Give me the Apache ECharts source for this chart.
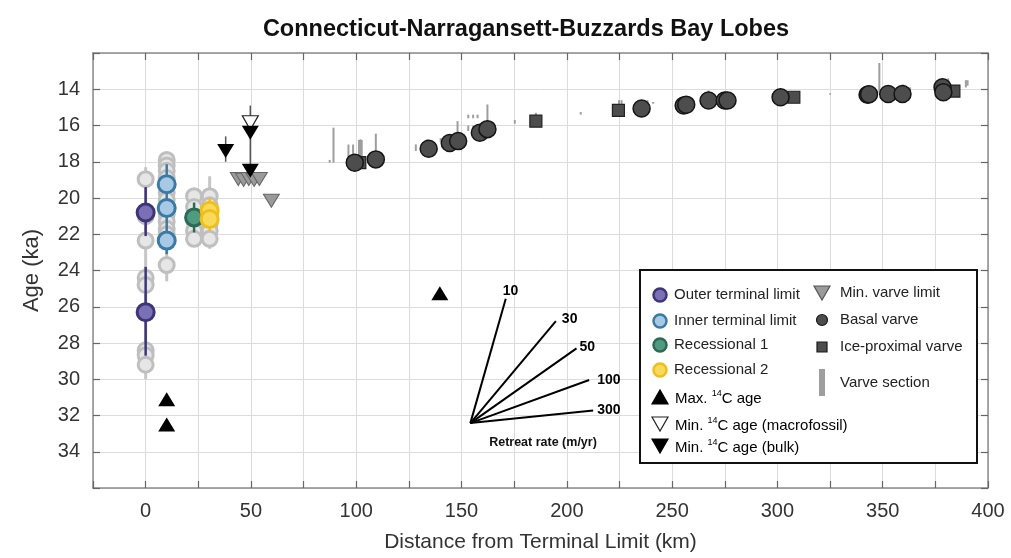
<!DOCTYPE html>
<html><head><meta charset="utf-8">
<script src="https://cdn.jsdelivr.net/npm/echarts@6/dist/echarts.min.js"></script>
<style>html,body{margin:0;padding:0;background:#fff}#c{width:1011px;height:558px}</style>
</head><body><div id="c"></div>
<script>
// ---------- DATA ----------
const xTicks = [0, 50, 100, 150, 200, 250, 300, 350, 400];
const yTicks = [14, 16, 18, 20, 22, 24, 26, 28, 30, 32, 34];

// previously published / unused ages (grey)
const greyPts = [[0,18.96],[0,20.8],[0,21.0],[0,22.35],[0,24.4],[0,24.8],[0,28.4],[0,28.67],[0,29.2],
  [10,17.9],[10,18.2],[10,18.5],[10,18.9],[10,19.3],[10,19.7],[10,20.1],[10,20.5],[10,20.9],[10,21.3],[10,21.7],[10,22.0],[10,22.3],[10,23.7],
  [23,19.9],[23,20.5],[23,21.25],[23,21.8],[23,22.25],
  [30.4,19.9],[30.4,20.4],[30.4,20.9],[30.4,21.4],[30.4,21.8],[30.4,22.25]];
const greyBars = [[0,18.3,30.0],[10,17.6,24.6],[23,19.5,22.7],[30.4,18.8,22.8]];

const outerPts = [[0,20.8],[0,26.3]];
const outerBars = [[0,19.4,22.1],[0,23.8,28.7]];
const innerPts = [[10,19.24],[10,20.55],[10,22.35]];
const innerBars = [[10,18.14,23.1]];
const rec1Pts = [[23,21.07]];
const rec1Bars = [[23,20.25,21.9]];
const rec2Pts = [[30.4,20.7],[30.4,21.16]];
const rec2Bars = [[30.4,20.0,21.8]];

const maxC14 = [[10,31.1],[10,32.5],[139.7,25.25]];
const minC14Macro = [[49.7,15.85]];
const minC14Bulk = [[38,17.4],[49.7,16.4],[49.7,18.5]];
const minC14Bars = [[38,16.6,18.0],[49.7,14.9,18.6]];
const minVarve = [[44,18.95],[46.5,19.0],[49,18.95],[51.5,19.0],[54,18.95],[59.7,20.15]];

const basalVarve = [[99.3,18.05],[109.3,17.87],[134.4,17.28],[144.4,16.97],[148.4,16.86],[158.7,16.4],[162.3,16.2],
  [235.5,15.06],[255.5,14.9],[256.7,14.85],[267.3,14.62],[275,14.62],[276.3,14.62],[301.5,14.44],
  [342.8,14.3],[343.5,14.28],[352.6,14.26],[359.4,14.26],[378.4,13.89],[378.8,14.16]];
const iceProximal = [[101.7,18.05],[185.3,15.76],[224.5,15.17],[307.8,14.44],[383.8,14.1]];
const varveSections = [[87.4,17.9,18.05],[89.2,16.12,18.05],[96.3,17.05,17.8],[98.5,17.05,17.9],[101.3,16.8,18.0],
  [102,16.76,18.05],[102.6,16.8,18.0],[109.3,16.45,17.87],[128.3,17.04,17.4],[133.6,16.76,16.9],[140.1,16.7,16.9],
  [148.1,15.76,16.6],[153.2,15.4,15.6],[153.2,16.0,16.3],[155.5,15.4,15.6],[155.5,16.0,16.3],[157.6,15.4,15.6],
  [162.3,14.84,16.2],[175.3,15.7,15.9],[185.3,15.3,15.6],[206.6,15.26,15.4],[224.8,14.6,14.85],[226,14.6,14.85],
  [238.3,14.6,14.75],[241,14.7,14.8],[267.3,14.07,14.3],[275.4,14.15,14.3],[325,14.22,14.3],[348.4,12.55,14.2],
  [359.8,13.74,13.9],[363,13.9,14.2],[379.6,13.47,13.74],[381.1,13.4,13.74],[389.5,13.5,13.9],[390.3,13.5,13.8]];

const fanOrigin = [154.2, 32.42];
const fanRates = ['10', '30', '50', '100', '300'];
const fanEnds = [[171,25.56],[194.8,26.79],[204.6,28.3],[210.6,30.04],[212.5,31.73]];

// ---------- STYLE ----------
const FONT = '"Liberation Sans", Arial, sans-serif';
const fanLabelOffsets = [[-3,-8],[6,-2],[3,-1],[8,0],[4,0]];
const C = {
  outer:{fill:'#7b70b6', stroke:'#3e3577'},
  inner:{fill:'#a7c9e3', stroke:'#3a7aa5'},
  rec1:{fill:'#4f9b80', stroke:'#2c6a55'},
  rec2:{fill:'#f8da5b', stroke:'#efbf1c'},
  grey:{fill:'#e6e6e6', stroke:'#bfbfbf'}
};

function vbar(color, width){
  return function(params, api){
    const p1 = api.coord([api.value(0), api.value(1)]);
    const p2 = api.coord([api.value(0), api.value(2)]);
    return {type:'line', shape:{x1:p1[0],y1:p1[1],x2:p2[0],y2:p2[1]}, style:{stroke:color, lineWidth:width}};
  };
}
function barSeries(data, color, width, z){
  return {type:'custom', data:data, renderItem:vbar(color,width), encode:{x:0,y:[1,2]}, z:z, silent:true, animation:false};
}
function ptSeries(data, col, size, z, bw){
  return {type:'scatter', data:data, symbol:'circle', symbolSize:size, z:z, animation:false,
    itemStyle:{color:col.fill, borderColor:col.stroke, borderWidth:bw, opacity:1}};
}

const chart = echarts.init(document.getElementById('c'), null, {renderer:'canvas'});

const axisCommon = {
  axisLine:{show:true, onZero:false, lineStyle:{color:'#8c8c8c', width:1.5}},
  axisTick:{show:true, inside:true, length:7, lineStyle:{color:'#666', width:1.2}},
  splitLine:{show:false}
};

// legend helpers (pixel layout of legend box)
const LX1 = 660, LT1 = 674, LX2 = 822, LT2 = 840;
const rowsL = [295, 321, 345, 370, 397, 424, 446];
const rowsR = [293, 320, 347, 383];
const legendCircles = [C.outer, C.inner, C.rec1, C.rec2];
const legendNames1 = ['Outer terminal limit','Inner terminal limit','Recessional 1','Recessional 2'];
const rich = {
  n:{fontSize:15, fontFamily:FONT, color:'#222', lineHeight:18, verticalAlign:'bottom'},
  s:{fontSize:9, fontFamily:FONT, color:'#222', lineHeight:18, verticalAlign:'top', padding:[1,0,0,0]}
};
const g = [];
g.push({type:'rect', shape:{x:640, y:270, width:337, height:193}, style:{fill:'#fff', stroke:'#111', lineWidth:2}, z:50});
legendCircles.forEach((c,i)=>{
  g.push({type:'circle', shape:{cx:LX1, cy:rowsL[i], r:6.5}, style:{fill:c.fill, stroke:c.stroke, lineWidth:2.5}, z:51});
  g.push({type:'text', x:LT1, y:rowsL[i], style:{text:legendNames1[i], font:'15px '+FONT, fill:'#222', verticalAlign:'middle'}, z:51});
});
function tri(cx, cy, up, fill, stroke){
  const w=8, h=7;
  const pts = up ? [[cx-w,cy+h],[cx+w,cy+h],[cx,cy-h]] : [[cx-w,cy-h],[cx+w,cy-h],[cx,cy+h]];
  return {type:'polygon', shape:{points:pts}, style:{fill:fill, stroke:stroke, lineWidth:1.2}, z:51};
}
g.push(tri(LX1, rowsL[4], true, '#000', '#000'));
g.push(tri(LX1, rowsL[5], false, '#fff', '#222'));
g.push(tri(LX1, rowsL[6], false, '#000', '#000'));
const c14Texts = [['Max. ','C age'],['Min. ','C age (macrofossil)'],['Min. ','C age (bulk)']];
c14Texts.forEach((t,i)=>{
  g.push({type:'text', x:LT1+1, y:rowsL[4+i], style:{text:'{n|'+t[0]+'}{s|14}{n|'+t[1]+'}', rich:rich, verticalAlign:'middle'}, z:51});
});
g.push(tri(LX2, rowsR[0], false, '#9a9a9a', '#555'));
g.push({type:'circle', shape:{cx:LX2, cy:rowsR[1], r:5.5}, style:{fill:'#4d4d4d', stroke:'#1a1a1a', lineWidth:1.2}, z:51});
g.push({type:'rect', shape:{x:LX2-5, y:rowsR[2]-5, width:10, height:10}, style:{fill:'#4d4d4d', stroke:'#1a1a1a', lineWidth:1.2}, z:51});
g.push({type:'rect', shape:{x:LX2-3, y:rowsR[3]-14, width:6, height:27}, style:{fill:'#9e9e9e'}, z:51});
['Min. varve limit','Basal varve','Ice-proximal varve','Varve section'].forEach((t,i)=>{
  g.push({type:'text', x:LT2, y:rowsR[i], style:{text:t, font:'15px '+FONT, fill:'#222', verticalAlign:'middle'}, z:51});
});
g.push({type:'text', x:543, y:443, style:{text:'Retreat rate (m/yr)', font:'bold 12.5px '+FONT, fill:'#111', align:'center', verticalAlign:'middle'}, z:20});

const option = {
  backgroundColor:'#fff',
  animation:false,
  title:{text:'Connecticut-Narragansett-Buzzards Bay Lobes', left:521, textAlign:'center', top:13,
    textStyle:{fontFamily:FONT, fontWeight:'bold', fontSize:23.5, color:'#111'}},
  grid:{left:93, right:23, top:53, bottom:70, show:false},
  xAxis:[
    Object.assign({}, axisCommon, {type:'value', min:-25, max:400, interval:25, position:'bottom',
      name:'Distance from Terminal Limit (km)', nameLocation:'middle', nameGap:44,
      nameTextStyle:{fontFamily:FONT, fontSize:21, color:'#333'},
      axisLabel:{fontFamily:FONT, fontSize:20, color:'#333', margin:13, formatter:v=> xTicks.indexOf(v)>=0 ? String(v) : ''},
      splitLine:{show:true, lineStyle:{color:'#dcdcdc', width:1}}}),
    Object.assign({}, axisCommon, {type:'value', min:-25, max:400, interval:25, position:'top', axisLabel:{show:false}})
  ],
  yAxis:[
    Object.assign({}, axisCommon, {type:'value', min:12, max:36, interval:2, inverse:true, position:'left',
      name:'Age (ka)', nameLocation:'middle', nameGap:50,
      nameTextStyle:{fontFamily:FONT, fontSize:22, color:'#333'},
      axisLabel:{fontFamily:FONT, fontSize:20, color:'#333', margin:13, formatter:v=> yTicks.indexOf(v)>=0 ? String(v) : ''},
      splitLine:{show:true, lineStyle:{color:'#dcdcdc', width:1}}}),
    Object.assign({}, axisCommon, {type:'value', min:12, max:36, interval:2, inverse:true, position:'right', axisLabel:{show:false}})
  ],
  graphic:g,
  series:[
    barSeries(greyBars, '#c6c6c6', 3, 2),
    ptSeries(greyPts, C.grey, 15, 3, 3),
    barSeries(outerBars, C.outer.stroke, 2.5, 4),
    barSeries(innerBars, C.inner.stroke, 2.5, 4),
    barSeries(rec1Bars, C.rec1.stroke, 2.5, 4),
    barSeries(rec2Bars, C.rec2.stroke, 2.5, 4),
    ptSeries(outerPts, C.outer, 17, 5, 3),
    ptSeries(innerPts, C.inner, 17, 5, 3),
    ptSeries(rec1Pts, C.rec1, 17, 5, 3),
    ptSeries(rec2Pts, C.rec2, 17, 5, 3),
    barSeries(minC14Bars, '#555', 1.5, 5),
    {type:'scatter', data:minVarve, symbol:'triangle', symbolRotate:180, symbolSize:[16,13], z:6, animation:false,
      itemStyle:{color:'#9a9a9a', borderColor:'#666', borderWidth:1, opacity:1}},
    {type:'scatter', data:minC14Macro, symbol:'triangle', symbolRotate:180, symbolSize:[16,14], z:7, animation:false,
      itemStyle:{color:'#fff', borderColor:'#222', borderWidth:1.2, opacity:1}},
    {type:'scatter', data:minC14Bulk, symbol:'triangle', symbolRotate:180, symbolSize:[17,14], z:7, animation:false,
      itemStyle:{color:'#000', opacity:1}},
    {type:'scatter', data:maxC14, symbol:'triangle', symbolSize:[17,14], z:7, animation:false,
      itemStyle:{color:'#000', opacity:1}},
    barSeries(varveSections, '#9e9e9e', 2, 6),
    {type:'scatter', data:iceProximal, symbol:'rect', symbolSize:12, z:7, animation:false,
      itemStyle:{color:'#4d4d4d', borderColor:'#222', borderWidth:1.2, opacity:1}},
    {type:'scatter', data:basalVarve, symbol:'circle', symbolSize:17, z:8, animation:false,
      itemStyle:{color:'#4d4d4d', borderColor:'#151515', borderWidth:1.5, opacity:1}},
    {type:'custom', z:9, animation:false, silent:true,
      data:fanEnds.map((e,i)=>[fanOrigin[0], fanOrigin[1], e[0], e[1], i]),
      encode:{x:[0,2], y:[1,3]},
      renderItem:function(params, api){
        const p0 = api.coord([api.value(0), api.value(1)]);
        const p1 = api.coord([api.value(2), api.value(3)]);
        const i = api.value(4);
        const off = fanLabelOffsets[i];
        return {type:'group', children:[
          {type:'line', shape:{x1:p0[0],y1:p0[1],x2:p1[0],y2:p1[1]}, style:{stroke:'#000', lineWidth:2}},
          {type:'text', x:p1[0]+off[0], y:p1[1]+off[1], style:{text:fanRates[i], font:'bold 14px '+FONT, fill:'#000', verticalAlign:'middle', align:'left'}}
        ]};
      }}
  ]
};
chart.setOption(option);
</script></body></html>
